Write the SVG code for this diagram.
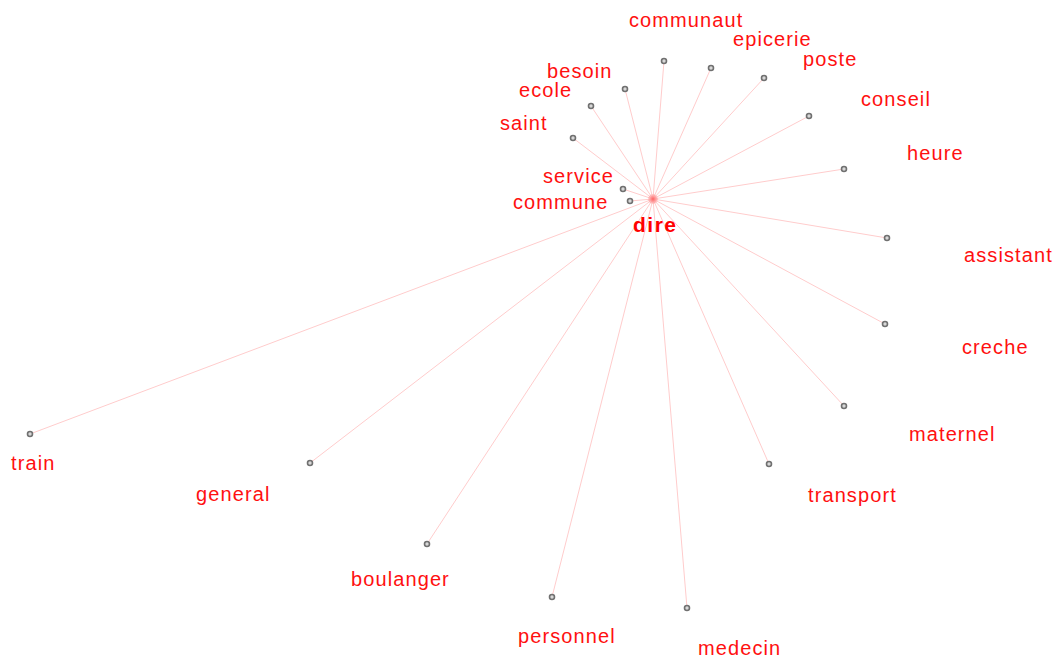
<svg xmlns="http://www.w3.org/2000/svg" width="1056" height="659" viewBox="0 0 1056 659">
<style>
.lbl{font-family:"Liberation Sans",Arial,sans-serif;font-size:20px;letter-spacing:1.1px;fill:#ff1010}
.hub{font-family:"Liberation Sans",Arial,sans-serif;font-size:21px;font-weight:bold;letter-spacing:1.5px;fill:#ff0000}
.edge{stroke:#ffcccc;stroke-width:1;fill:none}
.nd{fill:#d8d8d8;stroke:#707070;stroke-width:1.6}
</style>
<defs>
<radialGradient id="hubg">
<stop offset="0" stop-color="#ff6060"/>
<stop offset="1" stop-color="#ff9090" stop-opacity="0.3"/>
</radialGradient>
</defs>
<rect width="1056" height="659" fill="#ffffff"/>
<g id="connectors">
<line class="edge" x1="653" y1="199" x2="664" y2="61"/>
<line class="edge" x1="653" y1="199" x2="711" y2="68"/>
<line class="edge" x1="653" y1="199" x2="764" y2="78"/>
<line class="edge" x1="653" y1="199" x2="809" y2="116"/>
<line class="edge" x1="653" y1="199" x2="844" y2="169"/>
<line class="edge" x1="653" y1="199" x2="887" y2="238"/>
<line class="edge" x1="653" y1="199" x2="885" y2="324"/>
<line class="edge" x1="653" y1="199" x2="844" y2="406"/>
<line class="edge" x1="653" y1="199" x2="769" y2="464"/>
<line class="edge" x1="653" y1="199" x2="687" y2="608"/>
<line class="edge" x1="653" y1="199" x2="552" y2="597"/>
<line class="edge" x1="653" y1="199" x2="427" y2="544"/>
<line class="edge" x1="653" y1="199" x2="310" y2="463"/>
<line class="edge" x1="653" y1="199" x2="30" y2="434"/>
<line class="edge" x1="653" y1="199" x2="630" y2="201"/>
<line class="edge" x1="653" y1="199" x2="623" y2="189"/>
<line class="edge" x1="653" y1="199" x2="573" y2="138"/>
<line class="edge" x1="653" y1="199" x2="591" y2="106"/>
<line class="edge" x1="653" y1="199" x2="625" y2="89"/>
</g>
<g id="dire"><circle cx="653" cy="199" r="5" fill="url(#hubg)"/><text class="hub" x="633" y="232">dire</text></g>
<g id="communaut"><circle class="nd" cx="664" cy="61" r="2.5"/><text class="lbl" x="629" y="27">communaut</text></g>
<g id="epicerie"><circle class="nd" cx="711" cy="68" r="2.5"/><text class="lbl" x="733" y="46">epicerie</text></g>
<g id="poste"><circle class="nd" cx="764" cy="78" r="2.5"/><text class="lbl" x="803" y="66">poste</text></g>
<g id="conseil"><circle class="nd" cx="809" cy="116" r="2.5"/><text class="lbl" x="861" y="106">conseil</text></g>
<g id="heure"><circle class="nd" cx="844" cy="169" r="2.5"/><text class="lbl" x="907" y="160">heure</text></g>
<g id="assistant"><circle class="nd" cx="887" cy="238" r="2.5"/><text class="lbl" x="964" y="262">assistant</text></g>
<g id="creche"><circle class="nd" cx="885" cy="324" r="2.5"/><text class="lbl" x="962" y="354">creche</text></g>
<g id="maternel"><circle class="nd" cx="844" cy="406" r="2.5"/><text class="lbl" x="909" y="441">maternel</text></g>
<g id="transport"><circle class="nd" cx="769" cy="464" r="2.5"/><text class="lbl" x="808" y="502">transport</text></g>
<g id="medecin"><circle class="nd" cx="687" cy="608" r="2.5"/><text class="lbl" x="698" y="655">medecin</text></g>
<g id="personnel"><circle class="nd" cx="552" cy="597" r="2.5"/><text class="lbl" x="518" y="643">personnel</text></g>
<g id="boulanger"><circle class="nd" cx="427" cy="544" r="2.5"/><text class="lbl" x="351" y="586">boulanger</text></g>
<g id="general"><circle class="nd" cx="310" cy="463" r="2.5"/><text class="lbl" x="196" y="501">general</text></g>
<g id="train"><circle class="nd" cx="30" cy="434" r="2.5"/><text class="lbl" x="11" y="470">train</text></g>
<g id="commune"><circle class="nd" cx="630" cy="201" r="2.5"/><text class="lbl" x="513" y="209">commune</text></g>
<g id="service"><circle class="nd" cx="623" cy="189" r="2.5"/><text class="lbl" x="543" y="183">service</text></g>
<g id="saint"><circle class="nd" cx="573" cy="138" r="2.5"/><text class="lbl" x="500" y="130">saint</text></g>
<g id="ecole"><circle class="nd" cx="591" cy="106" r="2.5"/><text class="lbl" x="519" y="97">ecole</text></g>
<g id="besoin"><circle class="nd" cx="625" cy="89" r="2.5"/><text class="lbl" x="547" y="78">besoin</text></g>
</svg>
